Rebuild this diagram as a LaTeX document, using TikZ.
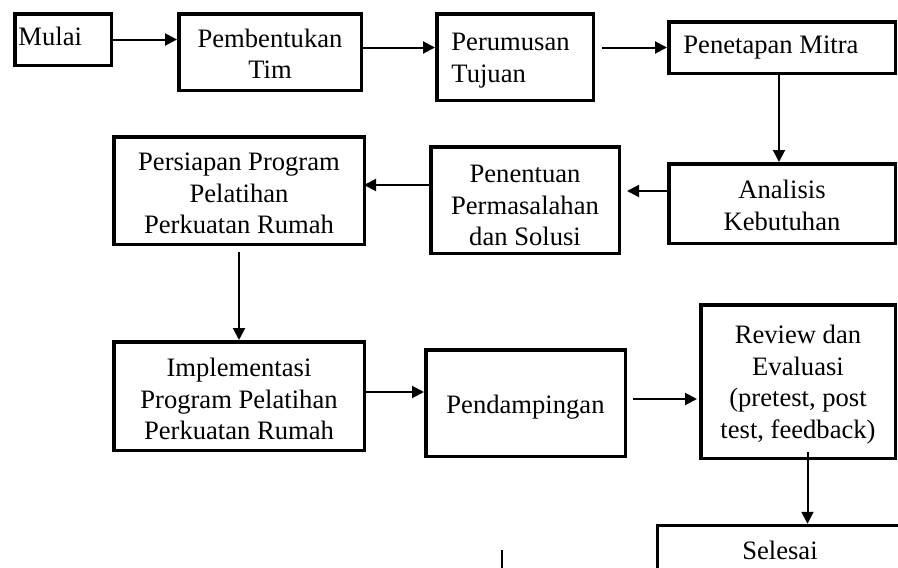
\documentclass[tikz,border=0pt]{standalone}
\usepackage{fontspec}
\setmainfont{Liberation Serif}
\usetikzlibrary{arrows.meta,calc}
\begin{document}
\begin{tikzpicture}[x=1pt,y=-1pt,
  box/.style={draw, line width=3.5pt, inner sep=0pt},
  txt/.style={inner sep=0pt, align=center, font=\fontsize{26.6}{31.5}\selectfont},
  ltxt/.style={txt, align=left},
  conn/.style={line width=2pt, -{Triangle[length=12pt,width=12pt]}},
]
\useasboundingbox (0,0) rectangle (898,568);
\clip (0,0) rectangle (898,568);

% boxes
\node[box, minimum width=96.5pt, minimum height=51.5pt] (mulai) at (63,39.5) {};
\node[box, minimum width=182.5pt, minimum height=76.5pt] (tim) at (270,52) {};
\node[box, minimum width=156.5pt, minimum height=86.5pt] (tujuan) at (515,57) {};
\node[box, minimum width=226.5pt, minimum height=51.5pt] (mitra) at (782,47.5) {};
\node[box, minimum width=226.5pt, minimum height=79.5pt] (analisis) at (782,203.5) {};
\node[box, minimum width=188.5pt, minimum height=106.5pt] (penentuan) at (525,200) {};
\node[box, minimum width=250.5pt, minimum height=107.5pt] (persiapan) at (239,190.5) {};
\node[box, minimum width=250.5pt, minimum height=108.5pt] (implementasi) at (239,396) {};
\node[box, minimum width=199.5pt, minimum height=106.5pt] (pendampingan) at (525.5,403) {};
\node[box, minimum width=194.5pt, minimum height=153.5pt] (review) at (798,381.5) {};
\node[box, anchor=north west, minimum width=300pt, minimum height=100pt] (selesai) at (655.75,523.75) {};

% texts
\node[ltxt, anchor=west] (mulait) at ($(mulai.west)+(5.25,-3)$) {Mulai};
\node[txt] (timt) at ($(tim.center)+(0,2)$) {Pembentukan\\Tim};
\node[ltxt, anchor=west] (tujuant) at ($(tujuan.west)+(16.25,3.5)$) {Perumusan\\Tujuan};
\node[ltxt, anchor=west] (mitrat) at ($(mitra.west)+(16.25,0)$) {Penetapan Mitra};
\node[txt] (analisist) at ($(analisis.center)+(0,2)$) {Analisis\\Kebutuhan};
\node[txt] (penentuant) at ($(penentuan.center)+(0,5.5)$) {Penentuan\\Permasalahan\\dan Solusi};
\node[txt] (persiapant) at ($(persiapan.center)+(0,3)$) {Persiapan Program\\Pelatihan\\Perkuatan Rumah};
\node[txt] (implementasit) at ($(implementasi.center)+(0,3)$) {Implementasi\\Program Pelatihan\\Perkuatan Rumah};
\node[txt] (pendampingant) at ($(pendampingan.center)+(0,4)$) {Pendampingan};
\node[txt] (reviewt) at ($(review.center)+(0,3)$) {Review dan\\Evaluasi\\(pretest, post\\test, feedback)};
\node[txt] (selesait) at (780,550) {Selesai};

% connectors
\draw[conn] (mulai.east) -- (mulai.east -| tim.west);
\draw[conn] (tim.east |- mitra.west) -- (tujuan.west |- mitra.west);
\draw[conn] ($(tujuan.east |- mitra.west)+(7,0)$) -- (mitra.west);
\draw[conn] ($(mitra.south)+(-3,0)$) -- ($(analisis.north)+(-3,0)$);
\draw[conn] ($(analisis.west)+(0,-12.5)$) -- ($(penentuan.east |- analisis.west)+(6,-12.5)$);
\draw[conn] ($(penentuan.west)+(0,-15)$) -- ($(persiapan.east |- penentuan.west)+(-2,-15)$);
\draw[conn] ($(persiapan.south)+(0,6)$) -- (implementasi.north);
\draw[conn] ($(implementasi.east)+(0,-4)$) -- ($(pendampingan.west |- implementasi.east)+(0,-4)$);
\draw[conn] ($(pendampingan.east)+(6,-4)$) -- ($(review.west |- pendampingan.east)+(-2,-4)$);
\draw[conn] ($(review.south -| selesai.north)+(0,-8)$) -- (selesai.north);

\coordinate (cursor) at (502,550);
\draw[line width=1.2pt] (cursor) -- ++(0,20);
\end{tikzpicture}
\end{document}
